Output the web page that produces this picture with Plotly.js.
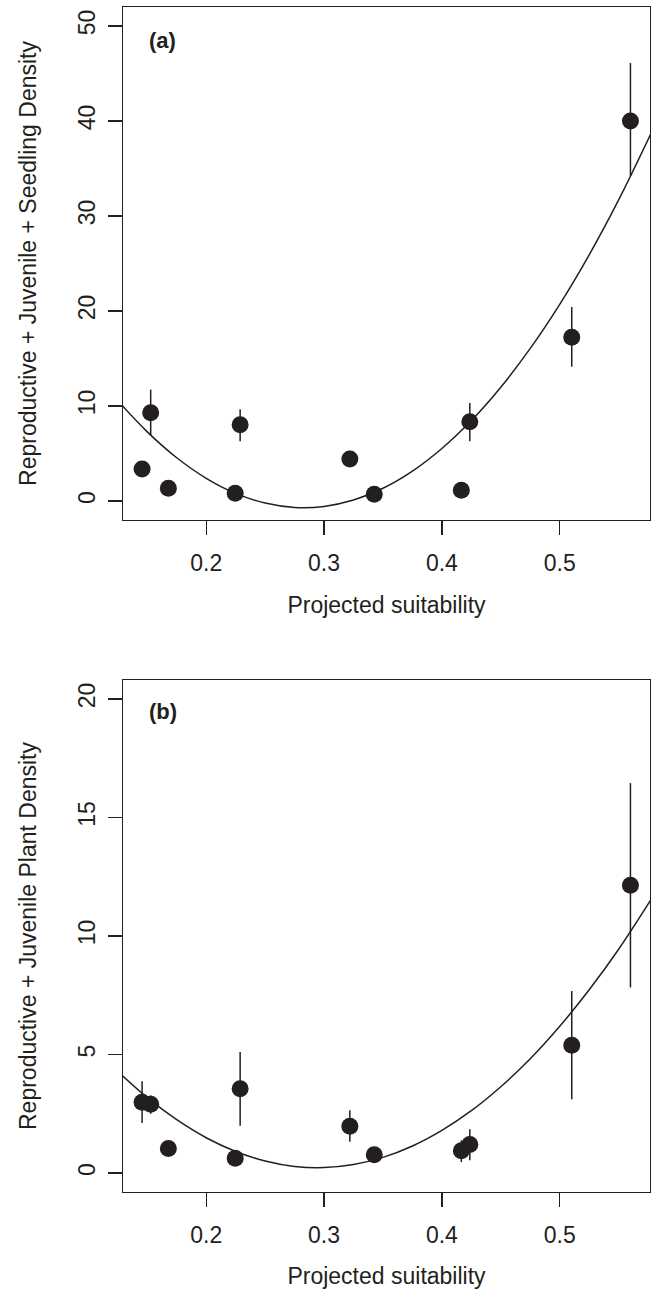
<!DOCTYPE html>
<html>
<head>
<meta charset="utf-8">
<script src="https://cdn.plot.ly/plotly-3.0.1.min.js"></script>
<style>html,body{margin:0;padding:0;background:#fff;}#chart{width:653px;height:1289px;}</style>
</head>
<body>
<div id="chart"></div>
<script>
// Projected suitability of each site (shared by both panels)
const suitability = [0.1456, 0.1529, 0.1679, 0.2246, 0.2288, 0.3219, 0.3426, 0.4165, 0.4237, 0.5102, 0.5600];

// Panel (a): Reproductive + Juvenile + Seedling density (mean, upper, lower)
const densityA = [3.36, 9.29, 1.34, 0.81, 8.02, 4.42, 0.71, 1.13, 8.34, 17.24, 40.0];
const upperA   = [3.36, 11.73, 1.34, 0.81, 9.65, 5.3, 0.71, 1.13, 10.32, 20.42, 46.1];
const lowerA   = [3.36, 6.89, 1.34, 0.81, 6.29, 3.6, 0.71, 1.13, 6.29, 14.13, 34.2];

// Panel (b): Reproductive + Juvenile plant density (mean, upper, lower)
const densityB = [2.99, 2.90, 1.04, 0.62, 3.56, 1.97, 0.77, 0.94, 1.20, 5.39, 12.14];
const upperB   = [3.87, 3.28, 1.04, 0.62, 5.11, 2.65, 0.77, 1.38, 1.85, 7.68, 16.45];
const lowerB   = [2.11, 2.50, 1.04, 0.62, 1.99, 1.32, 0.77, 0.46, 0.54, 3.11, 7.83];

// Fitted quadratic curves
const fitX = [0.129, 0.15, 0.175, 0.2, 0.225, 0.25, 0.275, 0.3, 0.325, 0.35, 0.375, 0.4, 0.425, 0.45, 0.475, 0.5, 0.525, 0.55, 0.577];
const fitA = [10.0, 7.28, 4.55, 2.39, 0.80, -0.22, -0.68, -0.57, 0.10, 1.34, 3.15, 5.53, 8.47, 11.98, 16.06, 20.70, 25.91, 31.69, 38.57];
const fitB = [4.10, 3.18, 2.25, 1.49, 0.91, 0.51, 0.28, 0.23, 0.36, 0.66, 1.14, 1.80, 2.63, 3.64, 4.82, 6.19, 7.73, 9.44, 11.50];

const xTicks = [0.2, 0.3, 0.4, 0.5];
const yTicksA = [0, 10, 20, 30, 40, 50];
const yTicksB = [0, 5, 10, 15, 20];
const xTitle = "Projected suitability";
const yTitleA = "Reproductive + Juvenile + Seedling Density";
const yTitleB = "Reproductive + Juvenile Plant Density";

const INK = "#231f20";
const FONT = "Liberation Sans, Arial, sans-serif";
const W = 653, H = 1289;

function diff(a, b) { return a.map((v, i) => v - b[i]); }

function pointTrace(y, up, lo, xa, ya) {
  return {
    type: "scatter", mode: "markers", x: suitability, y: y, xaxis: xa, yaxis: ya,
    marker: {size: 17, color: INK, line: {width: 0}},
    error_y: {type: "data", symmetric: false, array: diff(up, y), arrayminus: diff(y, lo),
              width: 0, thickness: 1.5, color: INK},
    showlegend: false, hoverinfo: "x+y"
  };
}
function fitTrace(y, xa, ya) {
  return {type: "scatter", mode: "lines", x: fitX, y: y, xaxis: xa, yaxis: ya,
          line: {color: INK, width: 1.5, shape: "spline"}, showlegend: false, hoverinfo: "skip"};
}

const data = [
  fitTrace(fitA, "x", "y"),
  pointTrace(densityA, upperA, lowerA, "x", "y"),
  fitTrace(fitB, "x2", "y2"),
  pointTrace(densityB, upperB, lowerB, "x2", "y2")
];

const xDomain = [123 / W, 650 / W];
const domA = [1 - 520 / H, 1 - 7 / H];
const domB = [1 - 1192 / H, 1 - 680 / H];

function xAxis(anchor) {
  return {
    domain: xDomain, anchor: anchor, range: [0.1294, 0.5766],
    tickmode: "array", tickvals: xTicks, ticktext: xTicks.map(String),
    ticks: "outside", ticklen: 14, tickwidth: 1.3, tickcolor: INK,
    showline: true, mirror: true, linecolor: INK, linewidth: 1.3,
    showgrid: false, zeroline: false, ticklabelstandoff: 8,
    tickfont: {family: FONT, size: 23, color: INK},
    title: {text: xTitle, font: {family: FONT, size: 23, color: INK}, standoff: 22}
  };
}
function yAxis(anchor, dom, range, ticks, title) {
  return {
    domain: dom, anchor: anchor, range: range,
    tickmode: "array", tickvals: ticks, ticktext: ticks.map(String), tickangle: -90,
    ticks: "outside", ticklen: 14, tickwidth: 1.3, tickcolor: INK,
    showline: true, mirror: true, linecolor: INK, linewidth: 1.3,
    showgrid: false, zeroline: false, ticklabelstandoff: 4,
    tickfont: {family: FONT, size: 23, color: INK},
    title: {text: title, font: {family: FONT, size: 23, color: INK}, standoff: 30}
  };
}

const layout = {
  width: W, height: H, margin: {l: 0, r: 0, t: 0, b: 0},
  paper_bgcolor: "#fff", plot_bgcolor: "#fff",
  xaxis: xAxis("y"),
  yaxis: yAxis("x", domA, [-2, 52], yTicksA, yTitleA),
  xaxis2: xAxis("y2"),
  yaxis2: yAxis("x2", domB, [-0.8, 20.8], yTicksB, yTitleB),
  annotations: [
    {text: "<b>(a)</b>", xref: "paper", yref: "paper", x: 147 / W, y: 1 - 40 / H,
     xanchor: "left", yanchor: "middle", showarrow: false, font: {family: FONT, size: 22, color: INK}},
    {text: "<b>(b)</b>", xref: "paper", yref: "paper", x: 147 / W, y: 1 - 711 / H,
     xanchor: "left", yanchor: "middle", showarrow: false, font: {family: FONT, size: 22, color: INK}}
  ],
  showlegend: false
};

Plotly.newPlot("chart", data, layout, {staticPlot: true, displayModeBar: false});
</script>
</body>
</html>
